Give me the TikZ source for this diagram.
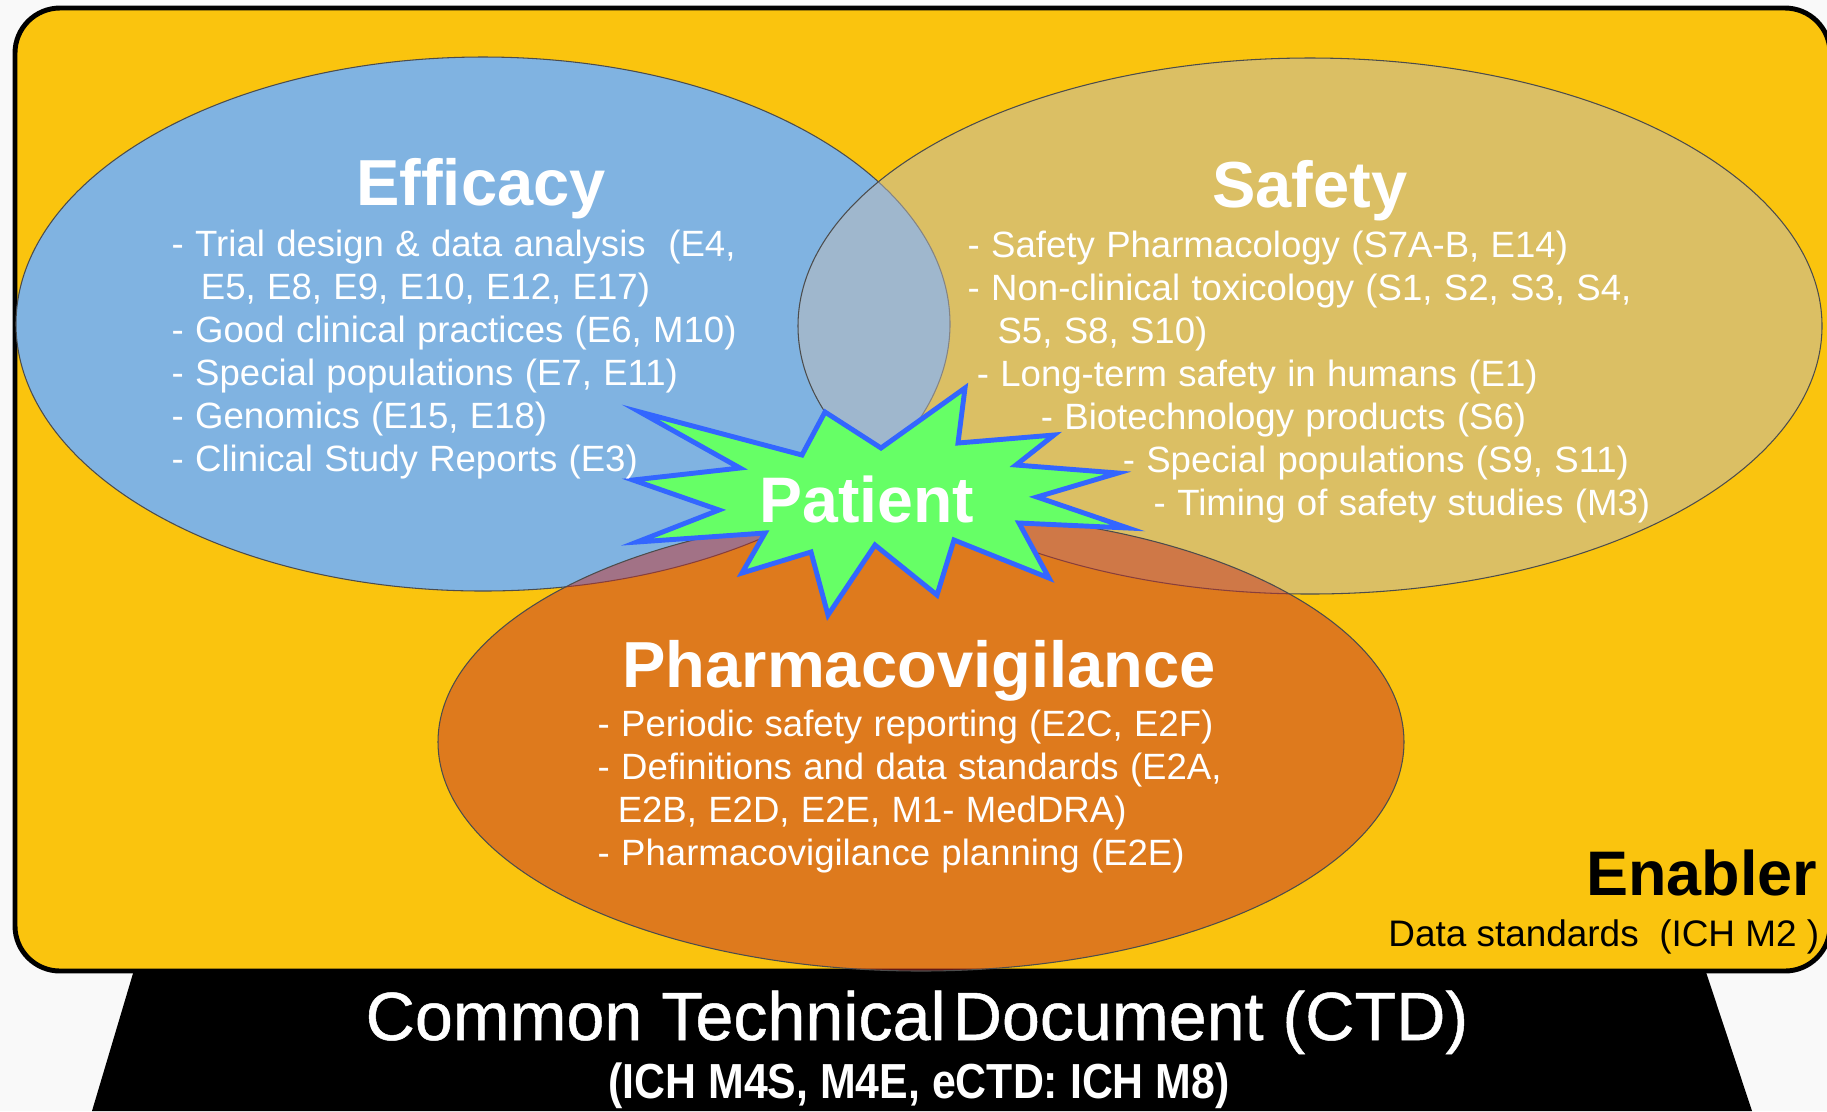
\documentclass[tikz,border=0pt]{standalone}
\usepackage{fontspec}
\setmainfont{Liberation Sans}
\newfontfamily\ctdfont{Liberation Sans}[FakeBold=0.7]
\usepackage{graphicx}
\newcommand\bodyfont{\fontsize{10.4}{12.25}\selectfont\spaceskip=0.31em plus 0.1em\relax}
\definecolor{bgyellow}{RGB}{250,196,14}
\definecolor{effblue}{RGB}{128,179,225}
\definecolor{safgray}{RGB}{190,188,186}
\definecolor{pvred}{RGB}{196,50,44}
\definecolor{stargreen}{RGB}{102,255,102}
\definecolor{starblue}{RGB}{51,102,255}
\begin{document}
\begin{tikzpicture}[x=0.01cm,y=-0.01cm,
    title/.style={text=white,inner sep=0,anchor=base,font=\fontsize{18.5}{22}\selectfont\bfseries},
    body/.style={text=white,inner sep=0,anchor=north west,align=left,font=\bodyfont},
    ring/.style={draw=black!70,line width=0.3pt}]
    \useasboundingbox (0,0) rectangle (1827,1111);
    \fill[gray!5] (0,0) rectangle (1827,1111);
    % base
    \fill[black] (137,960) -- (1702,960) -- (1752,1111) -- (92,1111) -- cycle;
    \draw[fill=bgyellow,line width=1.4pt,rounded corners=0.45cm] (15,8) rectangle (1830,971);
    % the three areas
    \draw[ring,fill=effblue] (483,324) ellipse [x radius=467, y radius=267];
    \draw[ring,fill=safgray,fill opacity=0.5] (1310,326) ellipse [x radius=512, y radius=268];
    \draw[ring,fill=pvred,fill opacity=0.5] (921,742) ellipse [x radius=483, y radius=229];
    % burst
    \draw[starblue,fill=stargreen,line width=1.4pt] (825,412) -- (881,448) -- (965,388) -- (958,443)
        -- (1054,435) -- (1016,465) -- (1118,473) -- (1037,497) -- (1128,528) -- (1019,523)
        -- (1049,578) -- (954,540) -- (937,595) -- (875,545) -- (828,615) -- (811,552)
        -- (742,573) -- (765,533) -- (637,542) -- (719,510) -- (633,480) -- (740,468)
        -- (640,412) -- (802,455) -- cycle;
    \node[title] (efftitle) at (481,205) {Efficacy};
    \node[body] (efflist) at (171,229) {- Trial design \& data analysis\ \ (E4,\\
        \hspace*{8.3pt}E5, E8, E9, E10, E12, E17)\\
        - Good clinical practices (E6, M10)\\
        - Special populations (E7, E11)\\
        - Genomics (E15, E18)\\
        - Clinical Study Reports (E3)};
    \node[title] (saftitle) at (1310,207) {Safety};
    \node[body] (saflist) at (967,230) {- Safety Pharmacology (S7A-B, E14)\\
        - Non-clinical toxicology (S1, S2, S3, S4,\\
        \hspace*{8.5pt}S5, S8, S10)\\
        \hspace*{2.6pt}- Long-term safety in humans (E1)\\
        \hspace*{20.8pt}- Biotechnology products (S6)\\
        \hspace*{44.1pt}- Special populations (S9, S11)\\
        \hspace*{52.9pt}- Timing of safety studies (M3)};
    \node[title] (pvtitle) at (919,687) {Pharmacovigilance};
    \node[body] (pvlist) at (597,709) {- Periodic safety reporting (E2C, E2F)\\
        - Definitions and data standards (E2A,\\
        \hspace*{5.7pt}E2B, E2D, E2E, M1- MedDRA)\\
        - Pharmacovigilance planning (E2E)};
    \node[title,font=\fontsize{18.3}{22}\selectfont\bfseries] (patient) at (867,522) {Patient};
    % enabler
    \node[inner sep=0,anchor=base east,font=\fontsize{17.9}{20}\selectfont\bfseries] (enabler) at (1818,895) {Enabler};
    \node[inner sep=0,anchor=base east,font=\fontsize{10.5}{12}\selectfont] (datastd) at (1820,946) {Data standards\ \ (ICH M2 )};
    % ctd
    \node[inner sep=0,anchor=base,text=white,font=\fontsize{19.4}{22}\selectfont\ctdfont] (ctd) at (917,1040) {Common Technical\hspace{2pt}Document (CTD)};
    \node[inner sep=0,anchor=base,text=white,font=\fontsize{14}{16}\selectfont\bfseries] (ctdref) at (919,1098) {\scalebox{0.87}[1]{(ICH M4S, M4E, eCTD: ICH M8)}};
\end{tikzpicture}
\end{document}
